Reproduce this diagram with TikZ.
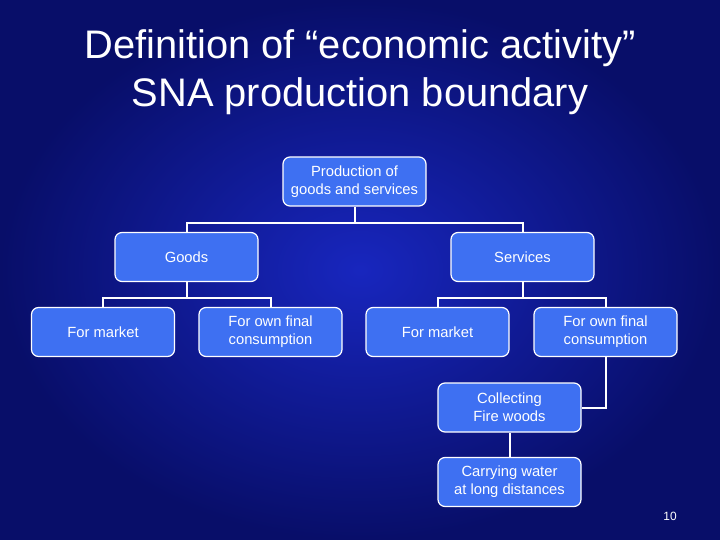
\documentclass[tikz,border=0pt]{standalone}
\usepackage{fontspec}
\setmainfont{Liberation Sans}
\definecolor{slidedark}{RGB}{8,14,105}
\definecolor{slidelight}{RGB}{24,38,190}
\definecolor{boxblue}{RGB}{62,112,242}

\tikzset{
  box/.style={draw=white, line width=1.2bp, fill=boxblue, rounded corners=7bp,
    minimum width=143bp, minimum height=49bp, inner sep=0pt,
    text=white, align=center, font=\fontsize{14.8}{18}\selectfont},
  link/.style={draw=white, line width=2bp}
}

\begin{document}
\begin{tikzpicture}[x=1bp,y=-1bp]

% Background
\useasboundingbox (0,0) rectangle (720,540);
\shade[inner color=slidelight, outer color=slidedark] (0,0) rectangle (720,540);

% Title
\node[text=white, align=center, font=\fontsize{40}{48}\selectfont] (title) at (360,72)
  {Definition of “economic activity”\\SNA production boundary};

% Boxes
\node[box] (prod) at (354.5,181.5) {Production of\\goods and services};
\node[box] (goods) at (186.5,257) {Goods};
\node[box] (serv) at (522.5,257) {Services};
\node[box] (mktL) at (103,332) {For market};
\node[box] (ownL) at (270.5,332) {For own final\\consumption};
\node[box] (mktR) at (437.5,332) {For market};
\node[box] (ownR) at (605.5,332) {For own final\\consumption};
\node[box] (fire) at (509.5,407.5) {Collecting\\Fire woods};
\node[box] (water) at (509.5,482) {Carrying water\\at long distances};

% Connectors
\draw[link] (prod.south) -- ++(0,16) -| (goods.north);
\draw[link] (prod.south) ++(0,16) -| (serv.north);
\draw[link] (goods.south) -- ++(0,16) -| (mktL.north);
\draw[link] (goods.south) ++(0,16) -| (ownL.north);
\draw[link] (serv.south) -- ++(0,16) -| (mktR.north);
\draw[link] (serv.south) ++(0,16) -| (ownR.north);
\draw[link] (ownR.south) |- (fire.east);
\draw[link] (fire.south) -- (water.north);

% Page number
\node[text=white, font=\fontsize{12}{14}\selectfont] (page) at (670,516) {10};

\end{tikzpicture}
\end{document}
